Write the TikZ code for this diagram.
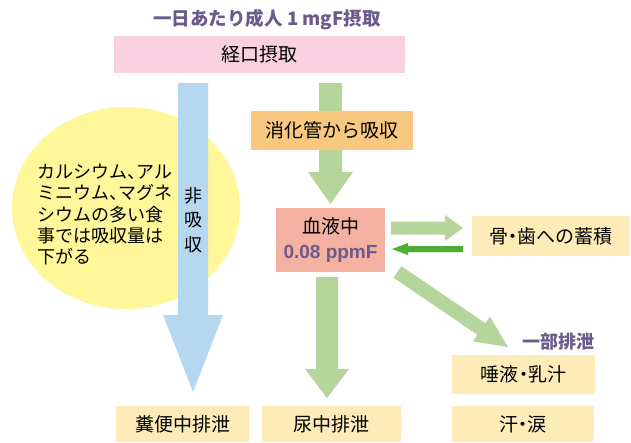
\documentclass[tikz,border=0pt]{standalone}
\usepackage{fontspec}
\setmainfont{Noto Sans CJK JP}[RawFeature=+halt]
\newfontfamily\arialf{Liberation Sans}
\usetikzlibrary{calc,shapes.geometric}
\definecolor{pinkbox}{HTML}{F9D0E0}
\definecolor{bluearrow}{HTML}{B6D7F0}
\definecolor{yellowell}{HTML}{FFF799}
\definecolor{orangebox}{HTML}{F8C880}
\definecolor{bloodbox}{HTML}{F4B1A2}
\definecolor{lightgreen}{HTML}{B5D59A}
\definecolor{darkgreen}{HTML}{4CAF32}
\definecolor{beige}{HTML}{FDEBB8}
\definecolor{purp}{HTML}{6B5B8B}
% block arrow: #1 start, #2 tip, #3 shaft half width, #4 head half width, #5 head length, #6 colour
\newcommand{\blockarrow}[6]{%
  \path (#1) coordinate (ba-s) (#2) coordinate (ba-t);
  \path ($(ba-t)!#5!(ba-s)$) coordinate (ba-h);
  \fill[#6] ($(ba-s)!#3!90:(ba-t)$) -- ($(ba-h)!#3!90:(ba-t)$) -- ($(ba-h)!#4!90:(ba-t)$)
    -- (ba-t) -- ($(ba-h)!#4!-90:(ba-t)$) -- ($(ba-h)!#3!-90:(ba-t)$) -- ($(ba-s)!#3!-90:(ba-t)$) -- cycle;
}
\begin{document}
\begin{tikzpicture}[x=1pt,y=-1pt,
  boxtext/.style={inner sep=0pt, font=\fontsize{19}{23}\selectfont, text=black},
  plainbox/.style={boxtext, rectangle, draw=none},
  purptitle/.style={inner sep=0pt, font=\fontsize{18.5}{20}\selectfont\bfseries, text=purp}]
\useasboundingbox (0,0) rectangle (631,442);
\fill[white] (0,0) rectangle (631,442);

% ellipse
\node[ellipse, fill=yellowell, minimum width=228pt, minimum height=202pt, inner sep=0pt] (diet) at (126,208) {};

% coordinates for arrow ends
\coordinate (blueS) at (193,83);
\coordinate (blueT) at (193,392);
\coordinate (greenS) at (330.5,83);
\coordinate (greenT) at (330.5,204);
\coordinate (boneS) at (391,228);
\coordinate (boneT) at (463,228);
\coordinate (backS) at (463,249);
\coordinate (backT) at (392,249);
\coordinate (urineS) at (327,277);
\coordinate (urineT) at (327,398);
\coordinate (diagS) at (397.5,272);
\coordinate (diagT) at (508,347);

% arrows
\blockarrow{blueS}{blueT}{15pt}{30pt}{77pt}{bluearrow}
\blockarrow{greenS}{greenT}{11.5pt}{22.5pt}{32pt}{lightgreen}
\blockarrow{boneS}{boneT}{6.5pt}{13pt}{18pt}{lightgreen}
\blockarrow{backS}{backT}{3pt}{6pt}{16pt}{darkgreen}
\blockarrow{urineS}{urineT}{11pt}{22pt}{29pt}{lightgreen}
\blockarrow{diagS}{diagT}{7pt}{15pt}{32pt}{lightgreen}

% texts in ellipse and blue arrow
\node[anchor=west, inner sep=0pt, align=left, font=\fontsize{18}{21.3}\selectfont] (dietText) at (37,214.5)
  {カルシウム、アル\\ミニウム、マグネ\\シウムの多い食\\事では吸収量は\\下がる};
\node[inner sep=0pt, align=center, font=\fontsize{18}{24.5}\selectfont] (nonabs) at (193,220) {非\\吸\\収};

% title
\node[purptitle] (title) at (267,20) {一日あたり成人 1 mgF摂取};

% boxes
\node[plainbox, fill=pinkbox, minimum width=291pt, minimum height=37pt] (oral) at (259.5,54.5) {経口摂取};
\node[plainbox, fill=orangebox, minimum width=162pt, minimum height=39pt] (gut) at (332,130.5) {消化管から吸収};
\node[plainbox, fill=bloodbox, minimum width=109pt, minimum height=64pt, align=center, font=\fontsize{19}{25}\selectfont] (blood) at (330.5,240)
  {血液中\\{\arialf\bfseries\color{purp}0.08 ppmF}};
\node[plainbox, fill=beige, minimum width=158pt, minimum height=40pt] (bone) at (551,236) {骨・歯への蓄積};
\node[plainbox, fill=beige, minimum width=143pt, minimum height=39pt] (saliva) at (523.5,374.5) {唾液・乳汁};
\node[plainbox, fill=beige, minimum width=142pt, minimum height=36pt] (sweat) at (523,424) {汗・涙};
\node[plainbox, fill=beige, minimum width=133pt, minimum height=36pt] (feces) at (182.5,424) {糞便中排泄};
\node[plainbox, fill=beige, minimum width=139pt, minimum height=36pt] (urine) at (331.5,424) {尿中排泄};

\node[purptitle, font=\fontsize{18}{20}\selectfont\bfseries] (partial) at (558.5,342) {一部排泄};
\end{tikzpicture}
\end{document}
